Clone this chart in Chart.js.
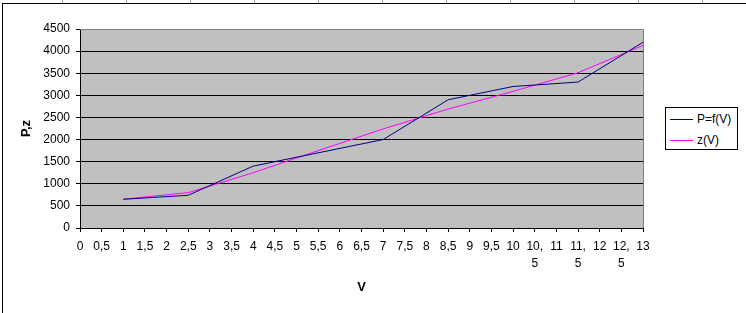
<!DOCTYPE html>
<html><head><meta charset="utf-8">
<script src="https://cdn.jsdelivr.net/npm/chart.js@4"></script>
<style>
html,body{margin:0;padding:0;background:#fff;}
#wrap{position:relative;width:746px;height:313px;overflow:hidden;}
canvas{display:block}
#legend{position:absolute;left:665px;top:107px;width:71px;height:41px;border:1px solid #000;background:#fff;font:12px "Liberation Sans",Arial,sans-serif;color:#000;}
.item{position:absolute;left:4px;height:14px;line-height:14px;white-space:nowrap;}
.sw{display:inline-block;width:23px;height:1px;vertical-align:middle;margin-right:4px;}
</style></head>
<body><div id="wrap"><canvas id="c" width="746" height="313"></canvas><div id="legend"></div></div>
<script>
const categories = ["0","0,5","1","1,5","2","2,5","3","3,5","4","4,5","5","5,5","6","6,5","7","7,5","8","8,5","9","9,5","10","10,5","11","11,5","12","12,5","13"];
const pValues = [null,null,650,null,null,740,null,null,1400,null,null,1700,null,null,2000,null,null,2900,null,null,3200,null,null,3300,null,null,4200];
const zValues = [null,null,650,null,null,800,null,null,1250,null,null,1750,null,null,2240,null,null,2690,null,null,3090,null,null,3510,null,null,4130];
const seriesNames = ["P=f(V)","z(V)"];
const seriesColors = ["#000080","#FF00FF"];
const yMin = 0, yMax = 4500, yStep = 500;
const xTitle = "V", yTitle = "P,z";

const FONT = '"Liberation Sans", Arial, sans-serif';

const bgPlugin = {
  id:'bg',
  beforeDraw(chart){
    const {ctx, chartArea:a} = chart;
    ctx.save();
    ctx.fillStyle='#fff';
    ctx.fillRect(0,0,chart.width,chart.height);
    ctx.strokeStyle='#a0a0a0';ctx.lineWidth=1;
    for(let x=62.5;x<746;x+=64){ctx.beginPath();ctx.moveTo(x,0);ctx.lineTo(x,3);ctx.stroke();}
    ctx.strokeStyle='#000';
    ctx.beginPath();ctx.moveTo(2,3.5);ctx.lineTo(746,3.5);ctx.stroke();
    ctx.beginPath();ctx.moveTo(2.5,3);ctx.lineTo(2.5,313);ctx.stroke();
    ctx.fillStyle='#C0C0C0';
    ctx.fillRect(a.left,a.top,a.right-a.left,a.bottom-a.top);
    ctx.restore();
  },
  beforeDatasetsDraw(chart){
    const {ctx, chartArea:a} = chart;
    ctx.save();
    ctx.strokeStyle='#808080';ctx.lineWidth=1;
    ctx.beginPath();
    ctx.moveTo(a.left,Math.round(a.top)+0.5);
    ctx.lineTo(Math.round(a.right)+0.5,Math.round(a.top)+0.5);
    ctx.lineTo(Math.round(a.right)+0.5,a.bottom);
    ctx.stroke();
    ctx.restore();
  }
};

new Chart(document.getElementById('c'),{
  type:'line',
  data:{
    labels:categories,
    datasets:[
      {label:seriesNames[0],data:pValues,borderColor:seriesColors[0],backgroundColor:seriesColors[0],borderWidth:1,pointRadius:0,spanGaps:true,tension:0},
      {label:seriesNames[1],data:zValues,borderColor:seriesColors[1],backgroundColor:seriesColors[1],borderWidth:1,pointRadius:0,spanGaps:true,tension:0}
    ]
  },
  options:{
    responsive:false,animation:false,devicePixelRatio:1,
    layout:{padding:{left:0,right:103,top:29,bottom:0}},
    plugins:{legend:{display:false},tooltip:{enabled:false}},
    scales:{
      x:{
        type:'category',offset:false,
        afterFit(s){s.height=85;},
        grid:{drawOnChartArea:false,drawTicks:true,tickLength:4,tickColor:'#000',offset:false},
        border:{display:true,color:'#000'},
        ticks:{autoSkip:false,maxRotation:0,minRotation:0,padding:7,color:'#000',
          font:{family:FONT,size:12,lineHeight:1.35},
          callback(v){const s=this.getLabelForValue(v);return s.length>3?[s.slice(0,3),s.slice(3)]:s;}},
        title:{display:true,text:xTitle,color:'#000',font:{family:FONT,size:13,weight:'bold'},padding:{top:0,bottom:18}}
      },
      y:{
        min:yMin,max:yMax,
        afterFit(s){s.width=80;},
        grid:{color:(c)=>c.tick&&c.tick.value===yMax?'#808080':'#000',lineWidth:1,drawTicks:true,tickLength:4,tickColor:'#000'},
        border:{display:true,color:'#000'},
        ticks:{stepSize:yStep,padding:6,color:'#000',font:{family:FONT,size:12},callback:(v)=>String(v)},
        title:{display:true,text:yTitle,color:'#000',font:{family:FONT,size:13,weight:'bold'},padding:{top:19,bottom:0}}
      }
    }
  },
  plugins:[bgPlugin]
});

const lg=document.getElementById('legend');
seriesNames.forEach((n,i)=>{
  const d=document.createElement('div');d.className='item';d.style.top=(i===0?4:25)+'px';
  const sw=document.createElement('span');sw.className='sw';sw.style.background=seriesColors[i];
  d.appendChild(sw);d.appendChild(document.createTextNode(n));lg.appendChild(d);
});
</script>
</body></html>
